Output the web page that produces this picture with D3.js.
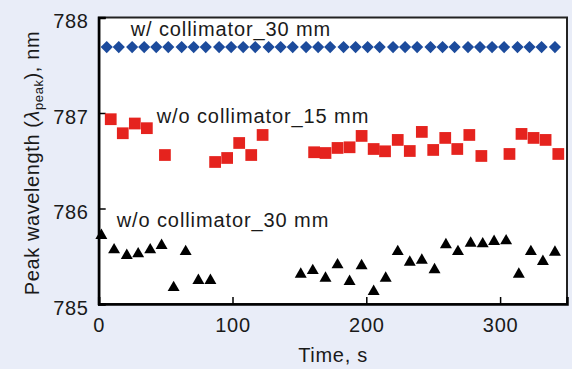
<!DOCTYPE html>
<html>
<head>
<meta charset="utf-8">
<script src="https://cdn.jsdelivr.net/npm/d3@7"></script>
<style>
  body { margin: 0; background: #e9edf8; }
  svg { display: block; font-family: "Liberation Sans", Arial, sans-serif; }
</style>
</head>
<body>
<svg id="chart" width="572" height="369"></svg>
<script>
// data
const xTicks = [0, 100, 200, 300];
const yTicks = [785, 786, 787, 788];

// w/ collimator_30 mm (blue diamonds)
const blueTimes = [6, 15, 25, 34, 43, 52, 62, 71, 80, 90, 99, 108, 117, 127, 136, 145, 155, 164, 173,
  183, 192, 201, 210, 220, 229, 238, 248, 257, 266, 276, 285, 294, 303, 313, 322, 331, 341];
const blueValues = [787.69, 787.69, 787.69, 787.69, 787.69, 787.69, 787.69, 787.69, 787.69, 787.69,
  787.69, 787.69, 787.69, 787.69, 787.69, 787.69, 787.69, 787.69, 787.69, 787.69, 787.69, 787.69,
  787.69, 787.69, 787.69, 787.69, 787.69, 787.69, 787.69, 787.69, 787.69, 787.69, 787.69, 787.69,
  787.69, 787.69, 787.69];

// w/o collimator_15 mm (red squares)
const redTimes = [9, 18, 27, 36, 49.5, 87, 96, 105, 114, 122.5, 161, 169.5, 178.5, 187.5, 196.5, 205.5,
  214, 223.5, 232.5, 241.5, 250, 259, 268, 277, 286, 307, 316, 325, 334, 343.5];
const redValues = [786.935, 786.788, 786.89, 786.841, 786.56, 786.487, 786.529, 786.686, 786.56, 786.77,
  786.589, 786.581, 786.634, 786.641, 786.76, 786.623, 786.599, 786.718, 786.602, 786.802,
  786.613, 786.739, 786.623, 786.77, 786.55, 786.571, 786.781, 786.739, 786.718, 786.571];

// w/o collimator_30 mm (black triangles)
const blackTimes = [2, 11.5, 21, 29.5, 38.5, 47, 56, 65, 74.5, 83.5, 151, 160, 169.5, 178.5, 187.5, 196.5,
  205.5, 214.5, 223.5, 232.5, 241.5, 251, 259.5, 268.5, 278, 287, 295.5, 304.5, 314, 323, 332, 341];
const blackValues = [785.733, 785.583, 785.524, 785.541, 785.583, 785.628, 785.188, 785.565, 785.262, 785.262,
  785.328, 785.366, 785.286, 785.426, 785.251, 785.416, 785.147, 785.286, 785.565, 785.453,
  785.474, 785.374, 785.636, 785.565, 785.652, 785.646, 785.67, 785.677, 785.328, 785.565,
  785.461, 785.558];

const seriesLabels = ["w/ collimator_30 mm", "w/o collimator_15 mm", "w/o collimator_30 mm"];

// plot box
const plotLeft = 98.7, plotRight = 567, plotTop = 17.5, plotBottom = 304;
const fontSize = 20;

const svg = d3.select("#chart");

const x = d3.scaleLinear().domain([0, 350]).range([plotLeft, plotRight]);
const y = d3.scaleLinear().domain([785, 788]).range([plotBottom, plotTop]);

// white plot area
svg.append("rect")
  .attr("x", plotLeft).attr("y", plotTop)
  .attr("width", plotRight - plotLeft).attr("height", plotBottom - plotTop)
  .attr("fill", "#ffffff")
  .attr("stroke", "#222")
  .attr("stroke-width", 2);

// axes with ticks pointing inward
const xAxis = svg.append("g")
  .attr("transform", `translate(0,${plotBottom})`)
  .call(d3.axisBottom(x).tickValues(xTicks).tickSize(-7).tickPadding(13.5).tickFormat(d3.format("d")));

const yAxis = svg.append("g")
  .attr("transform", `translate(${plotLeft},0)`)
  .call(d3.axisLeft(y).tickValues(yTicks).tickSize(-7).tickPadding(10).tickFormat(d3.format("d")));

[xAxis, yAxis].forEach(g => {
  g.select(".domain").attr("stroke", "#000").attr("stroke-width", 2.5);
  g.selectAll(".tick line").attr("stroke", "#000").attr("stroke-width", 1.5);
  g.selectAll(".tick text")
    .attr("fill", "#1a1a1a")
    .style("font-size", fontSize + "px")
    .style("letter-spacing", "0.7px")
    .style("font-family", "'Liberation Sans', Arial, sans-serif");
});
yAxis.selectAll(".tick text").attr("dy", "0.5em");
// no tick mark at x = 0
xAxis.selectAll(".tick line").filter(d => d === 0).remove();

// markers
const diamond = d3.symbol().type(d3.symbolSquare).size(74);
svg.append("g").selectAll("path")
  .data(blueTimes.map((t, i) => [t, blueValues[i]]))
  .join("path")
  .attr("d", diamond)
  .attr("transform", d => `translate(${x(d[0])},${y(d[1])}) rotate(45)`)
  .attr("fill", "#1c4b9c");

const square = d3.symbol().type(d3.symbolSquare).size(138);
svg.append("g").selectAll("path")
  .data(redTimes.map((t, i) => [t, redValues[i]]))
  .join("path")
  .attr("d", square)
  .attr("transform", d => `translate(${x(d[0])},${y(d[1])})`)
  .attr("fill", "#e5231e");

const triangle = d3.symbol().type(d3.symbolTriangle).size(62);
svg.append("g").selectAll("path")
  .data(blackTimes.map((t, i) => [t, blackValues[i]]))
  .join("path")
  .attr("d", triangle)
  .attr("transform", d => `translate(${x(d[0])},${y(d[1]) + 1.5})`)
  .attr("fill", "#000");

// series labels
const labelPos = [[130.7, 36], [156.7, 123], [116.7, 226.5]];
svg.append("g").selectAll("text")
  .data(seriesLabels)
  .join("text")
  .attr("x", (d, i) => labelPos[i][0])
  .attr("y", (d, i) => labelPos[i][1])
  .attr("fill", "#1a1a1a")
  .style("font-size", fontSize + "px")
  .style("letter-spacing", "0.9px")
  .text(d => d);

// axis titles
svg.append("text")
  .attr("x", 333).attr("y", 362)
  .attr("text-anchor", "middle")
  .attr("fill", "#1a1a1a")
  .style("font-size", fontSize + "px")
  .style("letter-spacing", "0.7px")
  .text("Time, s");

const yTitle = svg.append("text")
  .attr("transform", "translate(39,163) rotate(-90)")
  .attr("text-anchor", "middle")
  .attr("fill", "#1a1a1a")
  .style("font-size", fontSize + "px")
  .style("letter-spacing", "0.6px");
yTitle.append("tspan").text("Peak wavelength (");
yTitle.append("tspan").style("font-style", "italic").text("λ");
yTitle.append("tspan").style("font-size", "13px").attr("dy", 4).text("peak");
yTitle.append("tspan").attr("dy", -4).text("), nm");
</script>
</body>
</html>
